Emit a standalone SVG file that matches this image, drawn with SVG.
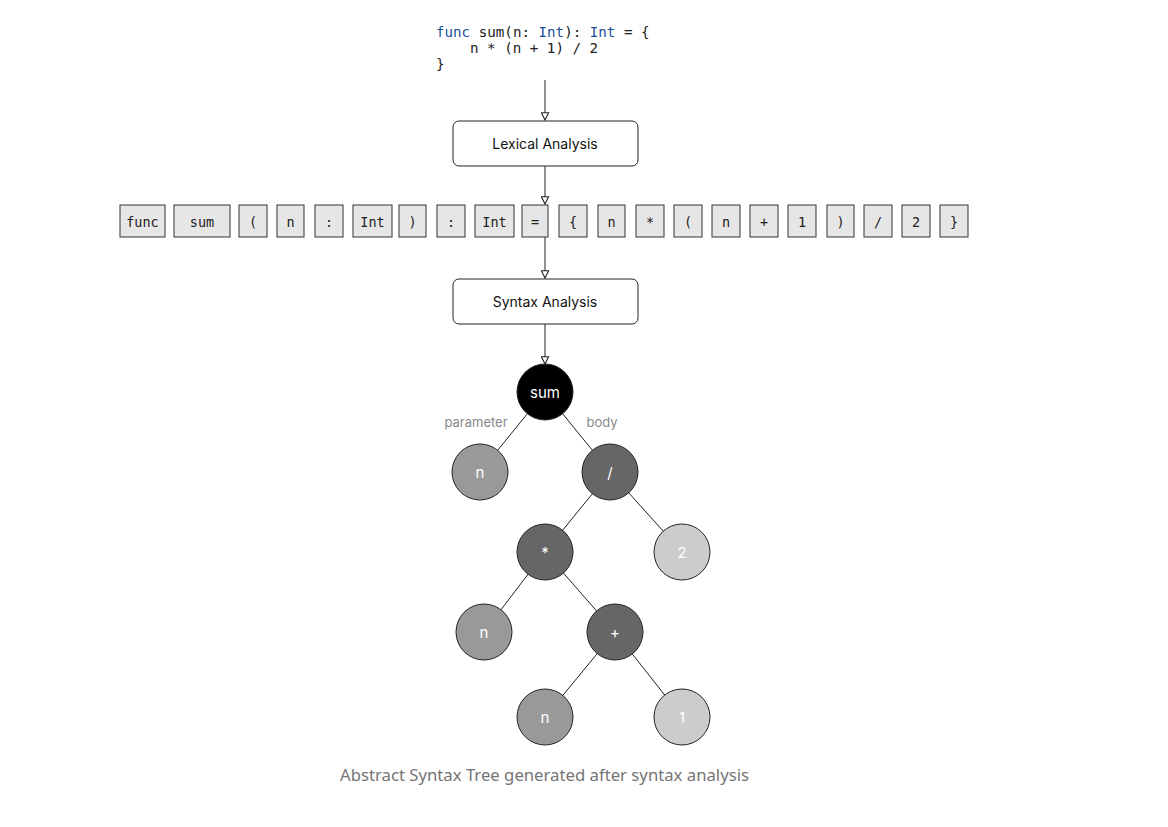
<svg xmlns="http://www.w3.org/2000/svg" width="1168" height="827" viewBox="0 0 1168 827">
<style>
.code{font-family:"DejaVu Sans Mono","Liberation Mono",monospace;font-size:14.2px;fill:#222}
.kw{fill:#1f4f9a}
.box{fill:#fff;stroke:#222;stroke-width:1}
.lbl{font-family:Inter,Roboto,"Liberation Sans",sans-serif;font-size:14px;fill:#111;text-anchor:middle;dominant-baseline:central}
.tok rect{fill:#e6e6e6;stroke:#333;stroke-width:1}
.tok text{font-family:"DejaVu Sans Mono","Liberation Mono",monospace;font-size:13.5px;fill:#222;text-anchor:middle;dominant-baseline:central}
.conn line{stroke:#222;stroke-width:1}
.node circle{stroke:#222;stroke-width:1}
.node text{font-family:Inter,Roboto,"Liberation Sans",sans-serif;font-size:15px;fill:#fff;text-anchor:middle;dominant-baseline:central}
.black{fill:#000}.dark{fill:#666}.mid{fill:#999}.light{fill:#ccc}
.elbl{font-family:Inter,Roboto,"Liberation Sans",sans-serif;font-size:13px;fill:#888;text-anchor:middle}
.cap{font-family:"Noto Sans","Open Sans",sans-serif;font-size:16px;fill:#757575}
</style>
<defs>
<marker id="arr" viewBox="0 0 10 10" refX="9" refY="5" markerWidth="9" markerHeight="9" markerUnits="userSpaceOnUse" orient="auto">
<path d="M1,1 L9,5 L1,9 Z" fill="#fff" stroke="#222" stroke-width="1.2"/>
</marker>
</defs>
<rect width="1168" height="827" fill="#fff"/>

<g id="code">
<text class="code" x="436" y="37"><tspan class="kw">func</tspan> sum(n: <tspan class="kw">Int</tspan>): <tspan class="kw">Int</tspan> = {</text>
<text class="code" x="470" y="53">n * (n + 1) / 2</text>
<text class="code" x="436" y="69">}</text>
</g>

<g id="connectors" class="conn">
<line x1="545" y1="80" x2="545" y2="120" marker-end="url(#arr)"/>
<line x1="545" y1="166" x2="545" y2="204" marker-end="url(#arr)"/>
<line x1="545" y1="237" x2="545" y2="278" marker-end="url(#arr)"/>
<line x1="545" y1="324" x2="545" y2="364" marker-end="url(#arr)"/>
<line x1="545" y1="392" x2="480" y2="472"/>
<line x1="545" y1="392" x2="610" y2="472"/>
<line x1="610" y1="472" x2="545" y2="552"/>
<line x1="610" y1="472" x2="682" y2="552"/>
<line x1="545" y1="552" x2="484" y2="632"/>
<line x1="545" y1="552" x2="615" y2="632"/>
<line x1="615" y1="632" x2="545" y2="717"/>
<line x1="615" y1="632" x2="682" y2="717"/>
</g>

<g id="lexical">
<rect class="box" x="453" y="121" width="185" height="45" rx="6"/>
<text class="lbl" x="545" y="143.5">Lexical Analysis</text>
</g>

<g id="tokens" class="tok">
<g id="t1"><rect x="120" y="205" width="45" height="32"/><text x="142.5" y="221.5">func</text></g>
<g id="t2"><rect x="174" y="205" width="56" height="32"/><text x="202" y="221.5">sum</text></g>
<g id="t3"><rect x="239" y="205" width="28" height="32"/><text x="253" y="221.5">(</text></g>
<g id="t4"><rect x="277" y="205" width="27" height="32"/><text x="290.5" y="221.5">n</text></g>
<g id="t5"><rect x="315" y="205" width="28" height="32"/><text x="329" y="221.5">:</text></g>
<g id="t6"><rect x="353" y="205" width="39" height="32"/><text x="372.5" y="221.5">Int</text></g>
<g id="t7"><rect x="399" y="205" width="27" height="32"/><text x="412.5" y="221.5">)</text></g>
<g id="t8"><rect x="437" y="205" width="28" height="32"/><text x="451" y="221.5">:</text></g>
<g id="t9"><rect x="475" y="205" width="39" height="32"/><text x="494.5" y="221.5">Int</text></g>
<g id="t10"><rect x="522" y="205" width="26" height="32"/><text x="535" y="221.5">=</text></g>
<g id="t11"><rect x="559" y="205" width="28" height="32"/><text x="573" y="221.5">{</text></g>
<g id="t12"><rect x="598" y="205" width="27" height="32"/><text x="611.5" y="221.5">n</text></g>
<g id="t13"><rect x="636" y="205" width="28" height="32"/><text x="650" y="221.5">*</text></g>
<g id="t14"><rect x="674" y="205" width="28" height="32"/><text x="688" y="221.5">(</text></g>
<g id="t15"><rect x="712" y="205" width="28" height="32"/><text x="726" y="221.5">n</text></g>
<g id="t16"><rect x="750" y="205" width="28" height="32"/><text x="764" y="221.5">+</text></g>
<g id="t17"><rect x="788" y="205" width="28" height="32"/><text x="802" y="221.5">1</text></g>
<g id="t18"><rect x="827" y="205" width="27" height="32"/><text x="840.5" y="221.5">)</text></g>
<g id="t19"><rect x="864" y="205" width="28" height="32"/><text x="878" y="221.5">/</text></g>
<g id="t20"><rect x="902" y="205" width="28" height="32"/><text x="916" y="221.5">2</text></g>
<g id="t21"><rect x="940" y="205" width="28" height="32"/><text x="954" y="221.5">}</text></g>
</g>

<g id="syntax">
<rect class="box" x="453" y="279" width="185" height="45" rx="6"/>
<text class="lbl" x="545" y="301.5">Syntax Analysis</text>
</g>

<g id="edge-labels">
<text class="elbl" x="476" y="427">parameter</text>
<text class="elbl" x="602" y="427">body</text>
</g>

<g id="n-sum" class="node"><circle class="black" cx="545" cy="392" r="28"/><text x="545" y="392">sum</text></g>
<g id="n-param" class="node"><circle class="mid" cx="480" cy="472" r="28"/><text x="480" y="472">n</text></g>
<g id="n-div" class="node"><circle class="dark" cx="610" cy="472" r="28"/><text x="610" y="472">/</text></g>
<g id="n-mul" class="node"><circle class="dark" cx="545" cy="552" r="28"/><text x="545" y="552">*</text></g>
<g id="n-2" class="node"><circle class="light" cx="682" cy="552" r="28"/><text x="682" y="552">2</text></g>
<g id="n-n2" class="node"><circle class="mid" cx="484" cy="632" r="28"/><text x="484" y="632">n</text></g>
<g id="n-plus" class="node"><circle class="dark" cx="615" cy="632" r="28"/><text x="615" y="632">+</text></g>
<g id="n-n3" class="node"><circle class="mid" cx="545" cy="717" r="28"/><text x="545" y="717">n</text></g>
<g id="n-1" class="node"><circle class="light" cx="682" cy="717" r="28"/><text x="682" y="717">1</text></g>

<text class="cap" x="340" y="781" textLength="409" lengthAdjust="spacingAndGlyphs">Abstract Syntax Tree generated after syntax analysis</text>
</svg>
